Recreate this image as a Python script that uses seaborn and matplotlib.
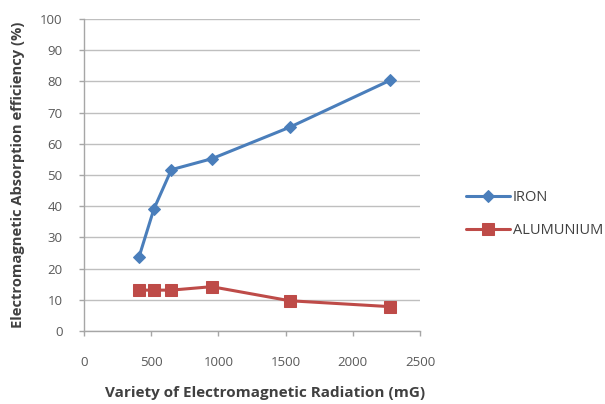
import matplotlib
matplotlib.use("Agg")
import matplotlib.pyplot as plt
import seaborn as sns
import pandas as pd

radiation_iron = [410, 520, 650, 950, 1530, 2280]
iron = [23.8, 39.1, 51.7, 55.2, 65.3, 80.4]
radiation_al = [410, 520, 650, 950, 1530, 2280]
aluminium = [13.1, 13.1, 13.1, 14.2, 9.7, 7.8]
series_names = ["IRON", "ALUMUNIUM"]
x_ticks = [0, 500, 1000, 1500, 2000, 2500]
y_ticks = [0, 10, 20, 30, 40, 50, 60, 70, 80, 90, 100]

df = pd.DataFrame({
    "x": radiation_iron + radiation_al,
    "y": iron + aluminium,
    "series": [series_names[0]] * len(iron) + [series_names[1]] * len(aluminium),
})

sns.set_theme(style="white")
plt.rcParams["font.family"] = ["Open Sans", "DejaVu Sans"]

fig = plt.figure(figsize=(6.05, 4.04), dpi=100)
ax = fig.add_axes([84 / 605, 1 - 331 / 404, (420 - 84) / 605, (331 - 19) / 404])

palette = {"IRON": "#4A7EBB", "ALUMUNIUM": "#BE4B48"}
markers = {"IRON": "D", "ALUMUNIUM": "s"}
sizes = {"IRON": 6, "ALUMUNIUM": 8.5}
for name in series_names:
    sub = df[df["series"] == name]
    sns.lineplot(data=sub, x="x", y="y", ax=ax, color=palette[name], marker=markers[name],
                 markersize=sizes[name], linewidth=2.2, label=name,
                 markeredgecolor=palette[name])

ax.set_xlim(0, 2500)
ax.set_ylim(0, 100)
ax.set_xticks(x_ticks)
ax.set_yticks(y_ticks)
ax.yaxis.grid(True, color="#BFBFBF", linewidth=1)
ax.xaxis.grid(False)
for s in ["top", "right"]:
    ax.spines[s].set_visible(False)
for s in ["left", "bottom"]:
    ax.spines[s].set_color("#A6A6A6")
    ax.spines[s].set_linewidth(1)
ax.tick_params(axis="both", which="major", direction="out", length=3.5, width=1, color="#A6A6A6",
               labelsize=9.5, labelcolor="#595959", bottom=True, left=True)
ax.tick_params(axis="x", pad=14.5)
ax.tick_params(axis="y", pad=12)
ax.set_xlabel("Variety of Electromagnetic Radiation (mG)", fontsize=11, fontweight="bold",
              color="#404040", labelpad=12)
ax.xaxis.label.set_x(0.54)
ax.set_ylabel("Electromagnetic Absorption efficiency (%)", fontsize=10.6, fontweight="bold",
              color="#404040", labelpad=11)

leg = ax.legend(loc="center left", bbox_to_anchor=(1.12, 0.375), frameon=False, fontsize=10.5,
                handlelength=3.0, labelspacing=1.2, handletextpad=0.2, borderaxespad=0)
for t in leg.get_texts():
    t.set_color("#404040")

fig.savefig("out.png", dpi=100)
